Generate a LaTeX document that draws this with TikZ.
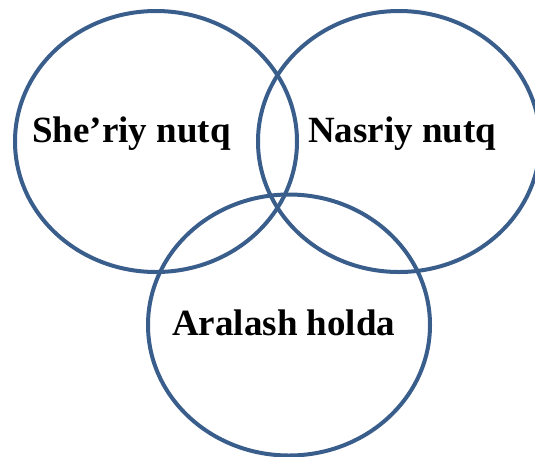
\documentclass[tikz,border=0pt]{standalone}
\usepackage{fontspec}
\setmainfont{Liberation Serif}
\usetikzlibrary{shapes.geometric}
\definecolor{ringblue}{RGB}{58,94,140}
\tikzset{
  ring/.style={ellipse, draw=ringblue, line width=4pt, inner sep=0pt,
    minimum width=282pt, minimum height=261pt},
  lbl/.style={anchor=base west, inner sep=0pt, font=\fontsize{37}{44}\selectfont\bfseries}
}
\begin{document}
\begin{tikzpicture}[x=1pt,y=-1pt]
\useasboundingbox (0,0) rectangle (535,456);
\clip (0,0) rectangle (535,456);
\node[ring] (left) at (156,141.5) {};
\node[ring] (right) at (399,141.5) {};
\node[ring] (bottom) at (289,325) {};
\node[lbl] (t1) at (32,142) {She’riy nutq};
\node[lbl] (t2) at (308,142) {Nasriy nutq};
\node[lbl] (t3) at (172,335) {Aralash holda};
\end{tikzpicture}
\end{document}
